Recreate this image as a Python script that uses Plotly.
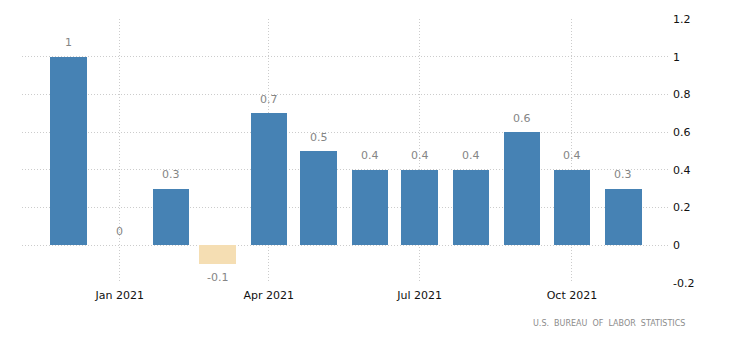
import plotly.graph_objects as go

# Monthly change, percent
months = ["2020-12-01", "2021-01-01", "2021-02-01", "2021-03-01", "2021-04-01", "2021-05-01",
          "2021-06-01", "2021-07-01", "2021-08-01", "2021-09-01", "2021-10-01", "2021-11-01"]
values = [1, 0, 0.3, -0.1, 0.7, 0.5, 0.4, 0.4, 0.4, 0.6, 0.4, 0.3]
value_labels = ["1", "0", "0.3", "-0.1", "0.7", "0.5", "0.4", "0.4", "0.4", "0.6", "0.4", "0.3"]

y_ticks = [1.2, 1, 0.8, 0.6, 0.4, 0.2, 0, -0.2]
y_tick_labels = ["1.2", "1", "0.8", "0.6", "0.4", "0.2", "0", "-0.2"]
x_ticks = ["2021-01-01", "2021-04-01", "2021-07-01", "2021-10-01"]
x_tick_labels = ["Jan 2021", "Apr 2021", "Jul 2021", "Oct 2021"]

POS = "#4682B4"
NEG = "#F5DEB3"
colors = [POS if v >= 0 else NEG for v in values]
day_ms = 86400000

fig = go.Figure()
fig.add_trace(go.Bar(
    x=months, y=values, marker=dict(color=colors, line=dict(width=0)),
    width=[22 * day_ms] * len(values), hoverinfo="x+y",
))

for m, v, t in zip(months, values, value_labels):
    fig.add_annotation(
        x=m, y=v, text=t, showarrow=False,
        yshift=14 if v >= 0 else -13,
        font=dict(family="DejaVu Sans", size=11, color="#858585"),
        xanchor="center", yanchor="middle",
    )

fig.add_annotation(
    xref="paper", yref="paper", x=1.029, y=-0.155,
    text="U.S.  BUREAU  OF  LABOR  STATISTICS", showarrow=False,
    xanchor="right", yanchor="middle",
    font=dict(family="DejaVu Sans", size=8, color="#8c8c8c"),
)

fig.update_layout(
    width=734, height=348,
    margin=dict(l=22, r=66, t=19, b=65),
    paper_bgcolor="white", plot_bgcolor="white",
    showlegend=False, bargap=0,
    font=dict(family="DejaVu Sans", size=11, color="#111111"),
    xaxis=dict(
        type="date", range=["2020-11-03", "2021-11-28"],
        tickvals=x_ticks, ticktext=x_tick_labels,
        showgrid=True, gridcolor="#cccccc", griddash="1px,2px", gridwidth=1,
        zeroline=False, showline=False, ticks="", ticklabelstandoff=4,
        tickfont=dict(size=11, color="#111111"),
    ),
    yaxis=dict(
        side="right", range=[-0.2, 1.2],
        tickvals=y_ticks, ticktext=y_tick_labels,
        showgrid=True, gridcolor="#cccccc", griddash="1px,2px", gridwidth=1,
        zeroline=False, showline=False, ticks="", ticklabelstandoff=4,
        tickfont=dict(size=11, color="#111111"),
    ),
)

fig.write_html("out.html")
